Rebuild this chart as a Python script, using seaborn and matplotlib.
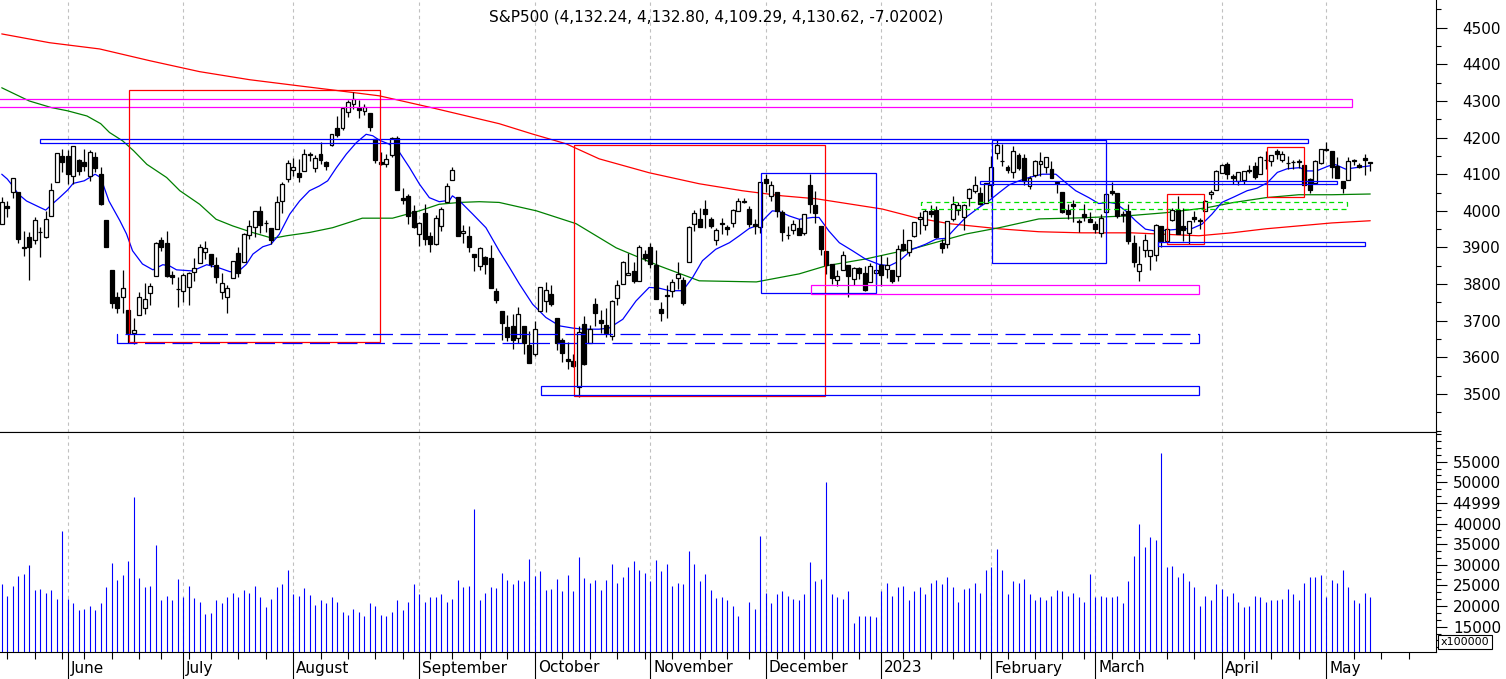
import numpy as np
import matplotlib
matplotlib.use("Agg")
import matplotlib.pyplot as plt
import matplotlib.transforms as mtransforms
from matplotlib.patches import Rectangle
from matplotlib.ticker import MultipleLocator
import seaborn as sns

sns.set_style("white", rc={"axes.edgecolor": "black", "text.color": "black",
                           "xtick.color": "black", "ytick.color": "black"})
plt.rcParams["font.family"] = ["DejaVu Sans"]

title = "S&P500 (4,132.24, 4,132.80, 4,109.29, 4,130.62, -7.02002)"

# ---- daily OHLC, 2022-05-13 .. 2023-05-11 (trading-day index 0..249) ----
opens = [3963.90,4013.02,4052.00,4051.98,3899.00,3927.76,3919.42,3942.94,3929.59,3984.60,
 4077.43,4151.09,4149.78,4095.41,4137.57,4134.72,4096.47,4147.12,4101.65,3974.39,
 3838.15,3763.52,3764.05,3728.18,3665.90,3715.31,3733.89,3774.71,3821.75,3920.76,
 3913.00,3825.09,3785.99,3781.00,3792.61,3831.98,3858.85,3888.26,3880.94,3851.95,
 3779.67,3763.99,3818.00,3883.79,3860.73,3935.32,3955.47,3998.43,3965.72,3953.22,
 3951.43,4026.13,4087.33,4112.38,4104.21,4107.96,4154.85,4115.87,4155.93,4133.11,
 4181.02,4227.40,4225.02,4269.37,4290.46,4280.40,4273.13,4266.31,4195.08,4133.09,
 4126.55,4153.26,4198.74,4034.58,4041.25,4000.67,3936.73,3994.66,3930.89,3909.43,
 3959.94,4022.94,4083.67,4037.12,3940.73,3932.41,3880.95,3849.91,3875.23,3871.40,
 3782.36,3727.14,3682.72,3686.44,3651.94,3687.01,3633.48,3609.78,3726.46,3753.25,
 3771.97,3706.74,3647.51,3595.86,3590.83,3520.37,3690.41,3638.65,3746.26,3703.11,
 3689.05,3657.10,3762.01,3799.44,3825.97,3834.69,3808.26,3881.85,3901.79,3852.90,
 3733.25,3766.98,3780.71,3817.02,3810.94,3859.89,3963.72,3977.97,4006.41,3976.82,
 3919.26,3966.39,3956.23,3965.51,4000.30,4023.34,4005.36,3964.19,3957.18,4087.14,
 4040.17,4052.02,3996.63,3933.28,3947.79,3954.17,3939.29,4069.38,4015.54,3958.37,
 3890.91,3853.79,3810.47,3839.49,3853.26,3815.11,3843.34,3829.56,3805.45,3829.06,
 3853.29,3840.36,3839.74,3823.37,3910.82,3888.57,3932.35,3977.57,3960.60,3999.28,
 4002.25,3911.84,3909.04,3978.14,4001.74,3982.71,4036.08,4053.72,4049.27,4020.85,
 4070.07,4158.68,4136.69,4119.57,4105.35,4153.47,4144.25,4068.92,4096.62,4126.70,
 4119.50,4114.75,4077.39,4052.35,4001.83,4018.60,3973.24,3992.36,3977.19,3963.34,
 3938.68,3998.02,4055.15,4048.26,3987.55,3998.66,3912.77,3835.12,3894.01,3876.74,
 3878.93,3958.69,3917.47,3975.89,4002.04,3959.21,3939.21,3982.93,3974.13,3999.53,
 4046.74,4056.18,4102.20,4128.03,4094.50,4081.15,4085.20,4110.29,4121.72,4100.04,
 4140.11,4137.17,4164.26,4139.33,4130.48,4132.14,4132.07,4126.43,4087.78,4075.29,
 4129.63,4166.79,4164.10,4122.25,4082.61,4084.73,4136.98,4124.25,4143.74,4132.24]
highs = [4038.88,4026.97,4090.72,4051.98,3945.96,3943.42,3981.88,3955.68,3999.33,4075.14,
 4158.49,4168.34,4166.54,4177.51,4142.67,4168.78,4164.86,4160.14,4119.10,3974.39,
 3838.15,3778.18,3837.56,3728.18,3707.71,3779.65,3801.79,3802.58,3913.65,3927.72,
 3945.86,3836.50,3818.99,3829.82,3832.19,3870.91,3910.63,3918.50,3880.94,3873.41,
 3829.44,3796.41,3863.62,3902.44,3939.81,3974.13,3999.29,4012.44,3975.30,3953.22,
 4039.56,4078.95,4140.15,4144.95,4140.47,4167.66,4161.29,4151.58,4186.62,4137.30,
 4211.03,4257.91,4280.47,4301.79,4325.28,4302.18,4292.53,4266.31,4195.08,4159.77,
 4156.56,4200.54,4203.04,4062.99,4044.98,4015.37,3970.23,4018.43,3942.55,3987.89,
 4010.50,4076.81,4119.28,4037.12,3961.94,3959.14,3880.95,3900.45,3876.01,3907.07,
 3790.28,3727.14,3715.67,3717.53,3736.74,3687.01,3671.44,3698.35,3791.92,3806.91,
 3797.93,3706.74,3652.17,3640.66,3608.34,3685.41,3712.00,3689.73,3762.79,3728.58,
 3736.00,3757.89,3810.74,3862.85,3886.15,3859.95,3905.42,3893.73,3911.79,3894.44,
 3750.59,3796.34,3813.95,3859.40,3818.20,3958.33,4001.48,4008.97,4028.84,3983.09,
 3954.33,3979.89,3962.00,4005.88,4033.78,4034.02,4012.27,3976.77,4080.11,4100.51,
 4080.48,4052.45,4001.51,3957.57,3974.19,3977.02,3990.71,4100.96,4053.76,3958.37,
 3890.91,3854.86,3838.24,3889.82,3853.26,3845.80,3846.65,3848.32,3858.19,3839.85,
 3878.46,3873.16,3839.74,3906.19,3950.57,3919.83,3970.07,3997.76,4003.95,4015.39,
 4014.16,3922.94,3972.96,4039.31,4023.92,4019.55,4061.57,4094.21,4063.85,4077.16,
 4148.95,4195.44,4182.36,4124.63,4176.54,4156.85,4156.23,4094.36,4138.90,4159.77,
 4148.11,4136.54,4081.51,4052.35,4017.37,4028.30,3978.25,4018.05,3997.50,3971.73,
 3990.84,4048.29,4078.49,4050.00,4000.41,4017.81,3934.05,3905.05,3937.29,3894.26,
 3964.46,3958.91,3956.62,4009.08,4039.49,4007.66,3972.74,3999.53,3979.20,4030.59,
 4057.85,4110.75,4127.66,4133.13,4099.69,4107.32,4109.50,4124.26,4134.37,4150.26,
 4163.19,4151.72,4169.48,4162.57,4148.57,4138.02,4142.41,4126.43,4089.67,4138.24,
 4170.06,4186.92,4164.10,4148.30,4082.61,4147.02,4142.30,4130.35,4154.28,4132.80]
lows = [3963.90,3984.51,4033.93,3911.91,3876.58,3810.32,3909.04,3875.13,3925.03,3984.60,
 4077.43,4104.88,4073.85,4074.37,4098.67,4109.18,4080.19,4107.20,4017.17,3900.16,
 3734.30,3722.30,3722.30,3639.77,3636.87,3715.31,3717.69,3743.52,3821.75,3889.66,
 3820.14,3799.02,3738.67,3752.10,3742.06,3809.37,3858.85,3869.34,3847.22,3802.36,
 3759.07,3721.56,3817.18,3818.63,3860.73,3922.03,3927.64,3938.85,3943.46,3910.74,
 3951.43,3992.97,4079.22,4096.02,4079.81,4107.96,4135.42,4107.31,4128.97,4112.09,
 4177.26,4201.41,4219.78,4256.90,4277.77,4253.08,4261.98,4218.70,4129.86,4124.03,
 4119.97,4147.59,4057.66,4017.42,3965.21,3954.53,3903.65,3906.21,3886.75,3906.03,
 3944.81,4022.94,4083.67,3932.41,3912.33,3888.28,3837.08,3838.50,3827.54,3789.49,
 3749.45,3647.47,3644.76,3623.29,3640.61,3610.40,3584.13,3604.93,3726.46,3722.66,
 3739.22,3620.73,3588.10,3568.45,3573.86,3491.58,3579.68,3638.65,3686.53,3666.51,
 3656.44,3647.42,3741.65,3799.44,3824.07,3803.79,3808.26,3863.18,3843.80,3758.68,
 3698.15,3708.84,3764.70,3786.28,3744.22,3859.89,3944.82,3956.40,3953.17,3954.34,
 3906.54,3935.98,3933.34,3956.88,3998.66,4020.76,3955.77,3937.65,3938.58,4050.87,
 4026.63,3984.49,3918.39,3922.68,3935.83,3933.04,3935.30,3993.03,3965.65,3879.45,
 3827.91,3800.04,3795.62,3839.49,3764.49,3797.01,3813.22,3780.78,3805.45,3800.34,
 3794.33,3815.77,3802.42,3809.56,3890.42,3877.29,3928.54,3937.56,3947.67,3984.57,
 3926.59,3885.54,3897.86,3971.64,3989.79,3949.06,4013.29,4048.70,4015.55,4020.44,
 4037.20,4141.88,4123.36,4103.98,4088.39,4111.67,4069.67,4060.79,4092.67,4095.01,
 4103.98,4089.49,4047.95,3995.19,3976.90,3969.19,3943.08,3973.55,3968.98,3939.05,
 3928.16,3995.17,4044.61,3980.31,3969.76,3908.70,3846.32,3808.86,3873.63,3838.24,
 3864.11,3901.27,3916.89,3971.19,3936.17,3919.05,3909.16,3970.42,3951.53,3999.53,
 4032.10,4056.18,4102.20,4086.87,4072.56,4069.84,4072.55,4102.61,4086.94,4099.40,
 4113.20,4123.18,4140.36,4134.49,4114.57,4113.86,4117.77,4071.38,4049.35,4075.29,
 4127.18,4164.12,4089.72,4088.86,4048.28,4084.73,4123.81,4116.65,4098.92,4109.29]
closes = [4023.89,4008.01,4088.85,3923.68,3900.79,3901.36,3973.75,3941.48,3978.73,4057.84,
 4158.24,4132.15,4101.23,4176.82,4108.54,4121.43,4160.68,4115.77,4017.82,3900.86,
 3749.63,3735.48,3789.99,3666.77,3674.84,3764.79,3759.89,3795.73,3911.74,3900.11,
 3821.55,3818.83,3785.38,3825.33,3831.39,3845.08,3902.62,3899.38,3854.43,3818.80,
 3801.78,3790.38,3863.16,3830.85,3936.69,3959.90,3998.95,3961.63,3966.84,3921.05,
 4023.61,4072.43,4130.29,4118.63,4091.19,4155.17,4151.94,4145.19,4140.06,4122.47,
 4210.24,4207.27,4280.15,4297.14,4305.20,4274.04,4283.74,4228.48,4137.99,4128.73,
 4140.77,4199.12,4057.66,4030.61,3986.16,3955.00,3966.85,3924.26,3908.19,3979.87,
 4006.18,4067.36,4110.41,3932.69,3946.01,3901.35,3873.33,3899.89,3855.93,3789.93,
 3757.99,3693.23,3655.04,3647.29,3719.04,3640.47,3585.62,3678.43,3790.93,3783.28,
 3744.52,3639.66,3612.39,3588.84,3577.03,3669.91,3583.07,3677.95,3719.98,3695.16,
 3665.78,3752.75,3797.34,3859.11,3830.60,3807.30,3901.06,3871.98,3856.10,3759.69,
 3719.89,3770.55,3806.80,3828.11,3748.57,3956.37,3992.93,3957.25,3991.73,3958.79,
 3946.56,3965.34,3949.94,4003.58,4027.26,4026.12,3963.94,3957.63,4080.11,4076.57,
 4071.70,3998.84,3941.26,3933.92,3963.51,3934.38,3990.56,4019.65,3995.32,3895.75,
 3852.36,3817.66,3821.62,3878.44,3822.39,3844.82,3829.25,3783.22,3849.28,3839.50,
 3824.14,3852.97,3808.10,3895.08,3892.09,3919.25,3969.61,3983.17,3999.09,3990.97,
 3928.86,3898.85,3972.61,4019.81,4016.95,4016.22,4060.43,4070.56,4017.77,4076.60,
 4119.21,4179.76,4136.48,4111.08,4164.00,4117.86,4081.50,4090.46,4137.29,4136.13,
 4147.60,4090.41,4079.09,3997.34,3991.05,4012.32,3970.04,3982.24,3970.15,3951.39,
 3981.35,4045.64,4048.42,3986.37,3992.01,3918.32,3861.59,3855.76,3919.29,3891.93,
 3960.28,3916.64,3951.57,4002.87,3936.97,3948.72,3970.99,3977.53,3971.27,4027.81,
 4050.83,4109.31,4124.51,4100.60,4090.38,4105.02,4109.11,4108.94,4091.95,4146.22,
 4137.64,4151.32,4154.87,4154.52,4129.79,4133.52,4137.04,4071.63,4055.99,4135.35,
 4169.48,4167.87,4119.58,4090.75,4061.22,4136.25,4138.12,4119.17,4137.64,4130.62]

# ---- volume (units of 100000) ----
volumes = [25440,22400,24800,27200,27840,30000,24000,24240,23280,24000,
 21600,38160,21600,20640,18960,19200,19920,18960,20640,24720,
 30480,26400,27600,30960,46560,26880,24720,24960,34800,21360,
 22560,21360,26640,22080,24960,21840,20880,18000,18240,21360,
 20640,22080,23280,22080,24000,23280,24960,22320,19680,21600,
 24720,25440,28800,23040,22560,24480,22800,20160,21360,20640,
 22320,20880,18480,17760,19200,18480,17520,20640,19920,17760,
 17520,18480,21360,18960,20880,25440,23040,20880,22320,22080,
 23040,20880,21600,26400,24720,24960,43440,21360,23280,24720,
 24480,28080,26400,25440,26400,26160,31440,27360,28560,24000,
 24240,26640,23760,27600,23760,31920,26880,25680,26400,24000,
 26400,30240,25680,27120,29520,30960,28800,28080,26160,31200,
 28560,30240,24960,25680,25440,33360,30240,26160,27840,24000,
 21840,22320,21360,19920,17520,8000,20880,19200,36960,23280,
 20640,23040,23760,22560,21600,21360,23040,30720,26160,26640,
 50160,23040,22320,21600,23760,15840,17520,17520,17520,17280,
 23760,25680,22560,24720,24960,21360,23760,24720,23040,25680,
 26400,25440,27120,24720,20880,24240,24480,25680,23280,28800,
 29520,33840,28800,23040,26160,25680,26640,23040,21360,22320,
 21360,22560,24000,23760,22560,23280,22080,20880,27840,22320,
 22560,22320,22080,22560,20640,26160,32160,39840,34320,36720,
 36000,57120,29520,29760,27120,28080,26160,24720,19920,22560,
 21360,25440,24240,22560,23280,20880,19680,19920,22560,22080,
 20880,21360,21360,21600,24240,23040,21360,25680,27120,27120,
 27600,22320,26400,25680,28800,24720,21360,20640,23280,22320]

# ---- moving-average lines (index, value) ----
ma_red_x = [0,8.7,17.8,26.9,36,45.1,54.2,60.2,68.7,78.4,90.5,96.5,102.7,108.7,117.8,126.9,134.7,
            142,148.2,154.2,160.2,166.4,172.4,181.5,188.7,196.5,205.6,217.8,223.8,230,236,242,249]
ma_red_y = [4483,4459,4442,4410,4380,4358,4341,4330,4314,4281,4238,4210,4183,4142,4104,4074,4055,
            4041,4033,4019,4005,3981,3965,3951,3943,3940,3940,3932,3940,3951,3959,3967,3973]
ma_green_x = [0,5,9,12,15.5,18,19.6,22,24,26.4,30,32.4,36,39,42,45.6,49.3,51.8,56,60.2,
              65.6,71.1,76,79.6,83.3,86.9,90.5,97.3,104.5,111.8,119.6,126.9,137.3,145.1,150,
              157.3,166.4,175.5,181.5,188.7,196.5,204.5,211.8,219.1,223.8,230,236,242,249]
ma_green_y = [4336,4300,4282,4273,4259,4238,4214,4191,4164,4127,4091,4055,4018,3977,3959,3941,
              3925,3932,3941,3954,3980,3980,4000,4018,4023,4025,4023,4000,3965,3899,3850,3809,
              3806,3828,3850,3869,3899,3937,3954,3978,3981,3986,3995,4008,4022,4036,4044,4044,4046]
ma_blue_x = [0,1,2,3,4.5,6,7,8,9,10.5,12,13,15,16,17,18,19.5,21.5,22.7,23.8,
             25.6,27.5,29.3,30.5,31.8,34.7,37.3,39.6,41.5,43,44.5,45.7,47.5,49,50.5,52.4,54.2,56,57.8,59.3,
             60.9,62.7,64.5,66.3,67.5,68.7,70.5,72.4,74.2,76,77.8,79.6,81.5,82,83.3,85.7,88.1,90.5,92.4,94.2,
             96.6,99,101.5,103.9,105.7,108.7,110.5,113,115.4,117.8,119.6,121.5,123.9,125.7,127.5,129.9,132.4,134.2,136,137.8,
             139,140.2,141.5,143.3,145.1,147.5,148.7,150.5,152.4,154.8,157.2,159.6,161.5,163.3,165.7,168.1,170,171.8,173.6,175.4,
             177.8,179.6,181.5,183.3,185.1,186.9,189.3,191.8,193.6,195.4,197.8,199.6,201.5,202.7,204.5,206.3,208.1,210,211.8,214.2,
             216.6,218.4,220.2,222,224.2,226.6,228.4,230.3,232.1,233.9,236.2,237.4,239.2,241.5,242.7,244.5,246.4,249]
ma_blue_y = [4100,4087,4068,4046,4027,4016,4009,4002,4016,4036,4057,4075,4082,4091,4100,4091,4027,3973,3937,3891,
             3855,3839,3853,3850,3839,3836,3853,3844,3834,3834,3854,3882,3902,3909,3936,3991,4027,4055,4068,4082,
             4118,4155,4186,4209,4205,4193,4182,4159,4118,4073,4036,4025,4029,4041,4027,3991,3954,3891,3845,3800,
             3745,3709,3686,3680,3677,3677,3680,3704,3754,3791,3789,3782,3782,3818,3864,3895,3913,3932,3952,3962,
             3982,4000,3998,3986,3977,3982,3982,3945,3913,3891,3868,3854,3850,3863,3895,3909,3923,3925,3954,3982,
             4009,4027,4050,4071,4082,4091,4100,4100,4077,4055,4036,4020,4023,4020,4000,3973,3950,3945,3947,3950,
             3952,3964,3991,4023,4038,4055,4062,4077,4105,4115,4118,4109,4109,4123,4126,4114,4118,4123]

# ---- drawn boxes: (start index, end index, low, high) ----
boxes = [(-1.0, 245.7, 4284.3, 4304.5), (6.96, 237.7, 4184.4, 4195.3), (23.15, 68.8, 3643.3, 4329.9),
         (20.97, 217.8, 3639.2, 3663.8), (104.1, 149.8, 3494.5, 4179.0), (98.1, 217.8, 3498.1, 3521.8),
         (138.1, 159.0, 3774.9, 4104.2), (147.3, 217.8, 3772.2, 3798.4), (180.2, 201.0, 3856.8, 4193.4),
         (178.0, 243.0, 4074.1, 4082.3), (167.2, 244.8, 4004.2, 4023.3), (212.1, 218.8, 3908.7, 4045.2),
         (210.3, 248.0, 3903.2, 3914.1), (230.3, 237.0, 4037.0, 4173.5)]
box_colors = ["#ff00ff", "#0000ff", "#ff0000", "#0000ff", "#ff0000", "#0000ff", "#0000ff",
              "#ff00ff", "#0000ff", "#0000ff", "#00e000", "#ff0000", "#0000ff", "#ff0000"]
box_styles = ["solid", "solid", "solid", (0, (16, 6)), "solid", "solid", "solid",
              "solid", "solid", "solid", (0, (4, 3)), "solid", "solid", "solid"]

month_pos = [12, 33, 53, 76, 97, 118, 139, 160, 180, 199, 222, 241]
month_labels = ["June", "July", "August", "September", "October", "November",
                "December", "2023", "February", "March", "April", "May"]
week_pos = [1, 6, 11, 15, 20, 25, 29, 34, 38, 43, 48, 58, 63, 68, 73, 78, 82, 87, 92, 102, 107,
            112, 117, 122, 127, 132, 136, 141, 146, 151, 156, 164, 169, 173, 178, 183, 188,
            193, 197, 202, 207, 212, 217, 226, 231, 236, 246, 251, 256]
price_ticks = [3500, 3600, 3700, 3800, 3900, 4000, 4100, 4200, 4300, 4400, 4500]
vol_ticks = [15000, 20000, 25000, 30000, 35000, 40000, 45000, 50000, 55000]
vol_tick_labels = ["15000", "20000", "25000", "30000", "35000", "40000", "44999", "50000", "55000"]

# ---------------- figure ----------------
W, H = 1506, 679
fig = plt.figure(figsize=(W / 100, H / 100), dpi=100)
ax = fig.add_axes([0, (H - 432) / H, 1436 / W, 432 / H])
axv = fig.add_axes([0, (H - 652) / H, 1436 / W, 220 / H])

x0, x1 = -1.75 / 5.496, (1436 - 1.75) / 5.496
for a in (ax, axv):
    a.set_facecolor("white")
    a.set_xlim(x0, x1)
    a.spines["left"].set_visible(False)
    for s in ("right", "bottom", "top"):
        a.spines[s].set_linewidth(0.8)
    for p in month_pos:
        a.axvline(p, color="#c0c0c0", lw=0.8, ls=(0, (3, 3)), zorder=0.5)
ax.spines["top"].set_visible(False)

# moving averages
sns.lineplot(x=ma_red_x, y=ma_red_y, ax=ax, color="#ff0000", lw=0.9, estimator=None, sort=False, zorder=2)
sns.lineplot(x=ma_green_x, y=ma_green_y, ax=ax, color="#008000", lw=0.9, estimator=None, sort=False, zorder=2)
n = min(len(ma_blue_x), len(ma_blue_y))
sns.lineplot(x=ma_blue_x[:n], y=ma_blue_y[:n], ax=ax, color="#0000ff", lw=0.9, estimator=None, sort=False, zorder=2)

# candles
idx = np.arange(len(closes))
o, h, l, c = map(np.array, (opens, highs, lows, closes))
up = c >= o
ax.vlines(idx, l, h, color="black", lw=0.9, zorder=3)
lo_b = np.minimum(o, c)
hb = np.abs(c - o)
ax.bar(idx[up], hb[up], bottom=lo_b[up], width=0.72, color="white", edgecolor="black", linewidth=0.9, zorder=4)
ax.bar(idx[~up], hb[~up], bottom=lo_b[~up], width=0.72, color="black", edgecolor="black", linewidth=0.9, zorder=4)

# boxes
for (bx0, bx1, blo, bhi), col, st in zip(boxes, box_colors, box_styles):
    ax.add_patch(Rectangle((bx0, blo), bx1 - bx0, bhi - blo, fill=False, edgecolor=col,
                           lw=0.9, ls=st, zorder=5))

ax.set_ylim(3396.3, 4575.6)
ax.yaxis.tick_right()
ax.set_yticks(price_ticks)
ax.set_yticklabels([str(t) for t in price_ticks], ha="right", fontsize=11)
ax.yaxis.set_minor_locator(MultipleLocator(50))
ax.tick_params(axis="y", which="major", right=True, left=False, length=7.9, width=0.8,
               direction="out", pad=38.9)
ax.tick_params(axis="y", which="minor", right=True, left=False, length=3.6, width=0.8, direction="out")
ax.tick_params(axis="x", which="both", bottom=False, top=False, labelbottom=False)

# volume
axv.vlines(idx, 0, volumes, color="#0000ff", lw=0.8, zorder=3)
axv.set_ylim(8867, 62200)
axv.yaxis.tick_right()
axv.set_yticks(vol_ticks)
axv.set_yticklabels(vol_tick_labels, ha="right", fontsize=11)
axv.yaxis.set_minor_locator(MultipleLocator(5000 / 3))
axv.tick_params(axis="y", which="major", right=True, left=False, length=7.9, width=0.8,
                direction="out", pad=38.9)
axv.tick_params(axis="y", which="minor", right=True, left=False, length=3.6, width=0.8, direction="out")
axv.set_xticks(month_pos)
axv.set_xticks(week_pos, minor=True)
axv.set_xlim(x0, x1)
axv.tick_params(axis="x", which="major", bottom=True, length=19.4, width=0.8, direction="out",
                labelbottom=False)
axv.tick_params(axis="x", which="minor", bottom=True, length=5.2, width=0.8, direction="out")

trans = mtransforms.blended_transform_factory(axv.transData, fig.transFigure)
trans = trans + mtransforms.ScaledTranslation(3 / 100, 0, fig.dpi_scale_trans)
for p, lab in zip(month_pos, month_labels):
    axv.text(p, 1 - 668 / H, lab, transform=trans, ha="left", va="center", fontsize=11, clip_on=False)

fig.text(1465 / W, 1 - 642 / H, "x100000", ha="center", va="center", fontsize=8,
         bbox=dict(boxstyle="square,pad=0.2", fc="white", ec="black", lw=0.8))
fig.text(716.5 / W, 1 - 16.5 / H, title, ha="center", va="center", fontsize=11)

fig.savefig("out.png", dpi=100, facecolor="white")
